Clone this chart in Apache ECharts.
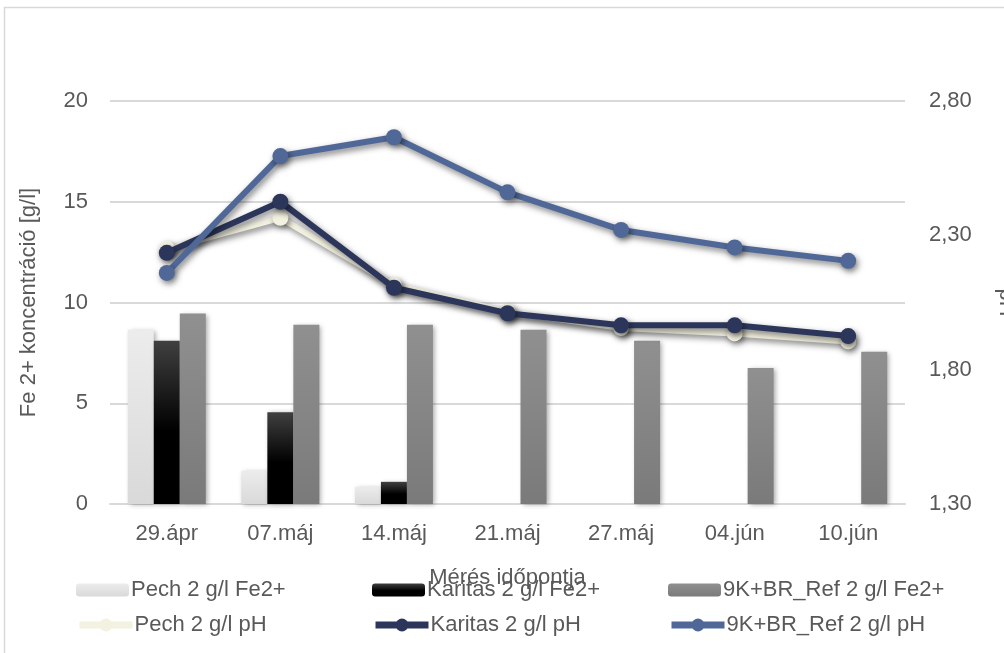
<!DOCTYPE html>
<html>
<head>
<meta charset="utf-8">
<script src="https://cdn.jsdelivr.net/npm/echarts@6/dist/echarts.min.js"></script>
<style>
  html, body { margin: 0; padding: 0; background: #ffffff; overflow: hidden; }
  #chart { width: 1004px; height: 653px; }
</style>
</head>
<body>
<div id="chart"></div>
<script>
// Measurement dates
const categories = ['29.ápr', '07.máj', '14.máj', '21.máj', '27.máj', '04.jún', '10.jún'];

// Fe2+ concentration [g/l]
const pechFe = [8.65, 1.65, 0.85, null, null, null, null];
const karitasFe = [8.1, 4.55, 1.1, null, null, null, null];
const refFe = [9.45, 8.9, 8.9, 8.65, 8.1, 6.75, 7.55];

// pH
const pechPH = [2.25, 2.365, 2.115, 2.015, 1.955, 1.935, 1.905];
const karitasPH = [2.235, 2.425, 2.105, 2.01, 1.965, 1.965, 1.925];
const refPH = [2.16, 2.595, 2.665, 2.46, 2.32, 2.255, 2.205];

// Axis ranges and tick labels
const feTicks = [0, 5, 10, 15, 20];
const phTicks = ['1,30', '1,80', '2,30', '2,80'];

const FONT = "'Liberation Sans', Arial, sans-serif";
const TEXT = '#595959';
const FS = 22;

function vgrad(stops) {
  return new echarts.graphic.LinearGradient(0, 0, 0, 1,
    stops.map(s => ({ offset: s[0], color: s[1] })));
}

const barShadow = {
  shadowColor: 'rgba(0,0,0,0.35)',
  shadowBlur: 5,
  shadowOffsetX: 2,
  shadowOffsetY: 1
};
const lineShadow = {
  shadowColor: 'rgba(0,0,0,0.5)',
  shadowBlur: 6,
  shadowOffsetX: 2,
  shadowOffsetY: 3
};

function barSeries(name, data, color) {
  return {
    name, type: 'bar', data, yAxisIndex: 0,
    barWidth: 26, barGap: '0%',
    itemStyle: Object.assign({ color }, barShadow)
  };
}
function lineSeries(name, data, color, z) {
  return {
    name, type: 'line', data, yAxisIndex: 1, z,
    symbol: 'circle', symbolSize: 16,
    lineStyle: Object.assign({ color, width: 6 }, lineShadow),
    itemStyle: Object.assign({ color }, lineShadow)
  };
}

const names = [
  'Pech 2 g/l Fe2+', 'Karitas 2 g/l Fe2+', '9K+BR_Ref 2 g/l Fe2+',
  'Pech 2 g/l pH', 'Karitas 2 g/l pH', '9K+BR_Ref 2 g/l pH'
];
const legendLeft = [76, 372, 668];
const legendTop = [579, 614];

const legends = names.map((n, i) => {
  const isLine = i >= 3;
  return {
    data: [n],
    left: legendLeft[i % 3],
    top: legendTop[Math.floor(i / 3)],
    padding: 0,
    itemWidth: 53,
    itemHeight: isLine ? 16 : 13,
    itemGap: 4,
    lineStyle: isLine ? { width: 7, shadowBlur: 0, shadowOffsetX: 0, shadowOffsetY: 0 } : undefined,
    textStyle: { fontFamily: FONT, fontSize: FS, color: TEXT, padding: [0, 0, 0, -3] }
  };
});

const chart = echarts.init(document.getElementById('chart'), null, { renderer: 'canvas' });
chart.setOption({
  animation: false,
  backgroundColor: '#ffffff',
  textStyle: { fontFamily: FONT },
  graphic: [{
    type: 'rect',
    shape: { x: 4.5, y: 7.5, width: 1010, height: 660 },
    style: { fill: 'none', stroke: '#d9d9d9', lineWidth: 1.5 },
    z: -10
  }],
  grid: { left: 110, right: 99, top: 101, bottom: 149, outerBoundsMode: 'none', containLabel: false },
  legend: legends,
  xAxis: {
    type: 'category',
    data: categories,
    name: 'Mérés időpontja',
    nameLocation: 'middle',
    nameGap: 63,
    nameTextStyle: { fontFamily: FONT, fontSize: FS, color: TEXT },
    axisLine: { lineStyle: { color: '#d9d9d9', width: 2 } },
    axisTick: { show: false },
    axisLabel: { fontFamily: FONT, fontSize: FS, color: TEXT, margin: 19 }
  },
  yAxis: [{
    type: 'value',
    min: feTicks[0],
    max: feTicks[feTicks.length - 1],
    interval: 5,
    name: 'Fe 2+ koncentráció [g/l]',
    nameLocation: 'middle',
    nameGap: 70,
    nameRotate: 90,
    nameTextStyle: { fontFamily: FONT, fontSize: FS, color: TEXT },
    axisLine: { show: false },
    axisTick: { show: false },
    axisLabel: { fontFamily: FONT, fontSize: FS, color: TEXT, margin: 22 },
    splitLine: { lineStyle: { color: '#d9d9d9', width: 2 } }
  }, {
    type: 'value',
    min: 1.3,
    max: 2.8,
    interval: 0.5,
    name: 'pH',
    nameLocation: 'middle',
    nameGap: 90,
    nameRotate: -90,
    nameTextStyle: { fontFamily: FONT, fontSize: FS, color: TEXT },
    axisLine: { show: false },
    axisTick: { show: false },
    splitLine: { show: false },
    axisLabel: {
      fontFamily: FONT, fontSize: FS, color: TEXT, margin: 24,
      formatter: v => phTicks.find(t => Math.abs(parseFloat(t.replace(',', '.')) - v) < 1e-6) || ''
    }
  }],
  series: [
    barSeries(names[0], pechFe, vgrad([[0, '#ececec'], [1, '#d9d9d9']])),
    barSeries(names[1], karitasFe, vgrad([[0, '#404040'], [0.55, '#000000'], [1, '#000000']])),
    barSeries(names[2], refFe, vgrad([[0, '#909090'], [1, '#7a7a7a']])),
    lineSeries(names[3], pechPH, '#f3f1e0', 3),
    lineSeries(names[4], karitasPH, '#2c365a', 4),
    lineSeries(names[5], refPH, '#506897', 5)
  ]
});
</script>
</body>
</html>
